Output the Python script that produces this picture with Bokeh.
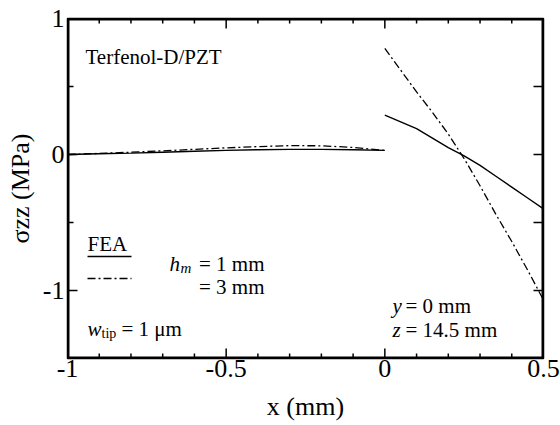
from bokeh.plotting import figure
from bokeh.models import Range1d, FixedTicker, Label
from bokeh.embed import file_html
from bokeh.resources import INLINE

# ---- data ----
x_left = [-1.0, -0.9, -0.8, -0.7, -0.6, -0.5, -0.4, -0.3, -0.2, -0.1, 0.0]
hm1_left = [0.0, 0.005, 0.01, 0.017, 0.024, 0.03, 0.035, 0.038, 0.038, 0.035, 0.03]
hm3_left = [0.0, 0.008, 0.017, 0.027, 0.038, 0.049, 0.058, 0.065, 0.064, 0.052, 0.03]

x_right = [0.0, 0.05, 0.1, 0.15, 0.2, 0.25, 0.3, 0.35, 0.4, 0.45, 0.5]
hm1_right = [0.29, 0.24, 0.19, 0.12, 0.05, -0.01, -0.08, -0.16, -0.24, -0.32, -0.40]
hm3_right = [0.78, 0.62, 0.46, 0.31, 0.15, -0.03, -0.23, -0.44, -0.64, -0.85, -1.07]

x_range = (-1.0, 0.5)
y_range = (-1.5, 1.0)
x_ticks = [-1.0, -0.5, 0.0, 0.5]
x_tick_labels = ["-1", "-0.5", "0", "0.5"]
x_minor = [-0.9, -0.8, -0.7, -0.6, -0.4, -0.3, -0.2, -0.1, 0.1, 0.2, 0.3, 0.4]
y_ticks = [-1.0, 0.0, 1.0]
y_tick_labels = ["-1", "0", "1"]
y_minor = [-0.5, 0.5]
y_right_ticks = [-1.0, -0.5, 0.0, 0.5]

FONT = "Liberation Serif"
DASHDOT = "8 3 2 3"
FL, FR, FT, FB = 67, 543, 18, 358
XPX = (FR - FL) / (x_range[1] - x_range[0])
YPX = (FB - FT) / (y_range[1] - y_range[0])

p = figure(width=560, height=425, output_backend="svg", toolbar_location=None,
           x_range=Range1d(*x_range), y_range=Range1d(*y_range),
           min_border_left=FL, min_border_right=560 - FR, min_border_top=FT,
           min_border_bottom=425 - FB)
p.grid.visible = False
p.outline_line_color = "black"
p.outline_line_width = 1.5
p.background_fill_color = None
p.border_fill_color = None

def style_axis(ax, standoff):
    ax.axis_line_width = 1.0
    ax.axis_line_color = "black"
    ax.major_tick_in = 0
    ax.major_tick_out = 0
    ax.minor_tick_in = 0
    ax.minor_tick_out = 0
    ax.major_label_text_font = FONT
    ax.major_label_text_font_size = "26px"
    ax.major_label_text_color = "black"
    ax.major_label_standoff = standoff
    ax.axis_label_text_font = FONT
    ax.axis_label_text_font_size = "26px"
    ax.axis_label_text_font_style = "normal"
    ax.axis_label_text_color = "black"

xa = p.xaxis[0]
xa.ticker = FixedTicker(ticks=x_ticks, minor_ticks=x_minor)
xa.major_label_overrides = {t: s for t, s in zip(x_ticks, x_tick_labels)}
style_axis(xa, 1)
xa.axis_label = "x (mm)"
xa.axis_label_standoff = 12

ya = p.yaxis[0]
ya.ticker = FixedTicker(ticks=y_ticks, minor_ticks=y_minor)
ya.major_label_overrides = {t: s for t, s in zip(y_ticks, y_tick_labels)}
style_axis(ya, 3)
ya.axis_label = "σzz (MPa)"
ya.axis_label_standoff = 5

# frame box (inner half of the line is visible)
p.quad(left=[x_range[0]], right=[x_range[1]], bottom=[y_range[0]], top=[y_range[1]],
       fill_color=None, line_color="black", line_width=4)

# inward ticks, from the tick arrays
def xt(ticks, length, lw=1.5):
    dy = length / YPX
    p.segment(x0=ticks, x1=ticks, y0=[y_range[0]] * len(ticks), y1=[y_range[0] + dy] * len(ticks),
              line_color="black", line_width=lw)
    p.segment(x0=ticks, x1=ticks, y0=[y_range[1]] * len(ticks), y1=[y_range[1] - dy] * len(ticks),
              line_color="black", line_width=lw)

xt(x_ticks, 10)
xt(x_minor, 5)

def yt(ticks, length, side, lw=1.5):
    dx = length / XPX
    x0 = x_range[0] if side == "left" else x_range[1]
    x1 = x0 + dx if side == "left" else x0 - dx
    p.segment(x0=[x0] * len(ticks), x1=[x1] * len(ticks), y0=ticks, y1=ticks,
              line_color="black", line_width=lw)

yt(y_ticks, 10, "left")
yt(y_minor, 6, "left")
yt(y_right_ticks, 10, "right")

# ---- curves ----
p.line(x_left, hm1_left, line_color="black", line_width=1.4)
p.line(x_right, hm1_right, line_color="black", line_width=1.4)
p.line(x_left, hm3_left, line_color="black", line_width=1.3, line_dash=DASHDOT)
p.line(x_right, hm3_right, line_color="black", line_width=1.3, line_dash=DASHDOT)

def X(px):
    return x_range[0] + (px - FL) / XPX

def Y(py):
    return y_range[1] - (py - FT) / YPX

def lab(px, py, text, size, style="normal", align="left"):
    p.add_layout(Label(x=X(px), y=Y(py), text=text, text_font=FONT,
                       text_font_size=f"{size}px", text_font_style=style,
                       text_align=align, text_baseline="alphabetic",
                       text_color="black"))

lab(85, 56, "Terfenol-D/PZT", 21)
lab(87, 243, "FEA", 21)
p.line([X(87), X(131)], [Y(256), Y(256)], line_color="black", line_width=1.4)
p.line([X(87), X(131)], [Y(278), Y(278)], line_color="black", line_width=1.3, line_dash=DASHDOT)
lab(169, 263, "h", 21, "italic")
lab(180, 267, "m", 15, "italic")
lab(264, 263, "= 1 mm", 21, align="right")
lab(264, 286, "= 3 mm", 21, align="right")
lab(87, 328, "w", 21, "italic")
lab(101, 333, "tip", 14)
lab(121, 328, "= 1 μm", 21)
lab(392, 305, "y", 21, "italic")
lab(405, 305, "= 0 mm", 21)
lab(392, 329, "z", 21, "italic")
lab(405, 329, "= 14.5 mm", 21)

open("out.html", "w").write(file_html(p, INLINE))
